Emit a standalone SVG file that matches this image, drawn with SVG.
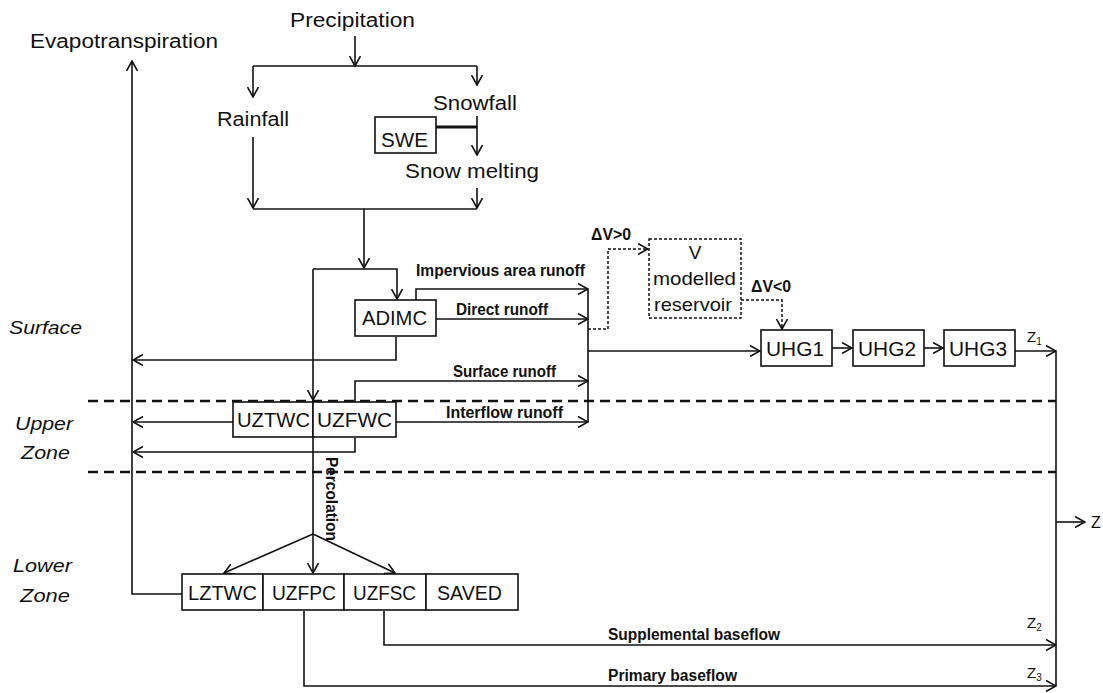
<svg xmlns="http://www.w3.org/2000/svg" width="1103" height="693" viewBox="0 0 1103 693">
<style>
.t{font-family:"Liberation Sans",Arial,sans-serif;font-size:20px;fill:#111}
.b{font-family:"Liberation Sans Narrow","Liberation Sans",Arial,sans-serif;font-size:16px;font-weight:bold;fill:#111}
.i{font-family:"Liberation Sans",Arial,sans-serif;font-size:19px;font-style:italic;fill:#111}
.m{text-anchor:middle}
.box{fill:#fff;stroke:#111;stroke-width:1.6}
.dbox{fill:#fff;stroke:#111;stroke-width:1.5;stroke-dasharray:3 2}
.ln{fill:none;stroke:#111;stroke-width:1.6}
.la{fill:none;stroke:#111;stroke-width:1.6;marker-end:url(#arr)}
.da{fill:none;stroke:#111;stroke-width:1.5;stroke-dasharray:3 2;marker-end:url(#arr)}
.zone{fill:none;stroke:#111;stroke-width:2.5;stroke-dasharray:10 6}
</style>
<defs>
<marker id="arr" viewBox="0 0 11 12" refX="10" refY="6" markerWidth="11" markerHeight="12" markerUnits="userSpaceOnUse" orient="auto">
<path d="M0,0.5 L10,6 L0,11.5" fill="none" stroke="#111" stroke-width="1.6"/>
</marker>
</defs>
<rect width="1103" height="693" fill="#fff"/>

<g id="zones">
<line class="zone" x1="88" y1="401" x2="1056" y2="401"/>
<line class="zone" x1="88" y1="472" x2="1056" y2="472"/>
<text class="i" x="9" y="334" textLength="73" lengthAdjust="spacingAndGlyphs">Surface</text>
<text class="i" x="15" y="430" textLength="58" lengthAdjust="spacingAndGlyphs">Upper</text>
<text class="i" x="21" y="459" textLength="49" lengthAdjust="spacingAndGlyphs">Zone</text>
<text class="i" x="13" y="572" textLength="59" lengthAdjust="spacingAndGlyphs">Lower</text>
<text class="i" x="20" y="602" textLength="50" lengthAdjust="spacingAndGlyphs">Zone</text>
</g>

<g id="connectors">
<path class="la" d="M355,36 V66"/>
<path class="ln" d="M253,66 H477"/>
<path class="la" d="M253,66 V97"/>
<path class="la" d="M477,66 V85"/>
<path class="la" d="M477,116 V155"/>
<path d="M436,127 H477" fill="none" stroke="#111" stroke-width="3"/>
<path class="la" d="M253,137 V208"/>
<path class="la" d="M477,188 V208"/>
<path class="ln" d="M253,209 H477"/>
<path class="la" d="M364,209 V268"/>
<path class="la" d="M313,269 H397 V299"/>
<path class="la" d="M313,269 V400"/>
<path class="la" d="M313,401 V573"/>
<path class="la" d="M313,534 L224,573"/>
<path class="la" d="M313,534 L395,573"/>
<path class="la" d="M416,300 V289 H588"/>
<path class="la" d="M436,319 H588"/>
<path class="la" d="M355,402 V381 H588"/>
<path class="la" d="M396,422 H588"/>
<path class="ln" d="M588,289 V422"/>
<path class="la" d="M588,351 H760"/>
<path class="la" d="M396,337 V360 H133"/>
<path class="la" d="M233,422 H133"/>
<path class="la" d="M355,438 V452 H133"/>
<path class="la" d="M182,594 H132 V61"/>
<path class="da" d="M588,329 H608 V249 H648"/>
<path class="da" d="M741,300 H782 V329"/>
<path class="la" d="M832,348 H852"/>
<path class="la" d="M924,348 H943"/>
<path class="la" d="M1015,351 H1056"/>
<path class="ln" d="M1056,351 V686"/>
<path class="la" d="M1056,522 H1085"/>
<path class="la" d="M384,611 V645 H1056"/>
<path class="la" d="M304,611 V686 H1056"/>
</g>

<g id="labels">
<text class="t" x="290" y="27" textLength="125" lengthAdjust="spacingAndGlyphs">Precipitation</text>
<text class="t" x="30" y="48" textLength="188" lengthAdjust="spacingAndGlyphs">Evapotranspiration</text>
<text class="t" x="217" y="126" textLength="72" lengthAdjust="spacingAndGlyphs">Rainfall</text>
<text class="t" x="433" y="110" textLength="84" lengthAdjust="spacingAndGlyphs">Snowfall</text>
<text class="t" x="405" y="178" textLength="134" lengthAdjust="spacingAndGlyphs">Snow melting</text>
<text class="b" x="416" y="276" textLength="169" lengthAdjust="spacingAndGlyphs">Impervious area runoff</text>
<text class="b" x="456" y="315" textLength="92" lengthAdjust="spacingAndGlyphs">Direct runoff</text>
<text class="b" x="453" y="377" textLength="103" lengthAdjust="spacingAndGlyphs">Surface runoff</text>
<text class="b" x="446" y="418" textLength="117" lengthAdjust="spacingAndGlyphs">Interflow runoff</text>
<text class="b" x="608" y="640" textLength="172" lengthAdjust="spacingAndGlyphs">Supplemental baseflow</text>
<text class="b" x="608" y="681" textLength="129" lengthAdjust="spacingAndGlyphs">Primary baseflow</text>
<text class="b" transform="translate(326,457) rotate(90)" textLength="84" lengthAdjust="spacingAndGlyphs">Percolation</text>
<text class="b" x="591" y="240" textLength="40" lengthAdjust="spacingAndGlyphs">ΔV&gt;0</text>
<text class="b" x="751" y="292" textLength="40" lengthAdjust="spacingAndGlyphs">ΔV&lt;0</text>
<text class="t" x="1027" y="342" style="font-size:15px">Z<tspan dy="3" style="font-size:10px">1</tspan></text>
<text class="t" x="1027" y="628" style="font-size:15px">Z<tspan dy="3" style="font-size:10px">2</tspan></text>
<text class="t" x="1027" y="678" style="font-size:15px">Z<tspan dy="3" style="font-size:10px">3</tspan></text>
<text class="t" x="1091" y="528" style="font-size:16px">Z</text>
</g>

<g id="SWE">
<rect class="box" x="375" y="117" width="61" height="36"/>
<text class="t" x="381" y="147" textLength="47" lengthAdjust="spacingAndGlyphs">SWE</text>
</g>
<g id="ADIMC">
<rect class="box" x="355" y="300" width="81" height="36"/>
<text class="t" x="362" y="325" textLength="65" lengthAdjust="spacingAndGlyphs">ADIMC</text>
</g>
<g id="UZTWC">
<rect class="box" x="233" y="402" width="80" height="35"/>
<text class="t" x="237" y="427" textLength="73" lengthAdjust="spacingAndGlyphs">UZTWC</text>
</g>
<g id="UZFWC">
<rect class="box" x="313" y="402" width="83" height="35"/>
<text class="t" x="317" y="427" textLength="75" lengthAdjust="spacingAndGlyphs">UZFWC</text>
</g>
<g id="reservoir">
<rect class="dbox" x="649" y="239" width="92" height="79"/>
<text class="t m" x="695" y="259" style="font-size:19px">V</text>
<text class="t" x="653" y="285" textLength="83" lengthAdjust="spacingAndGlyphs" style="font-size:19px">modelled</text>
<text class="t" x="654" y="311" textLength="78" lengthAdjust="spacingAndGlyphs" style="font-size:19px">reservoir</text>
</g>
<g id="UHG1">
<rect class="box" x="761" y="330" width="71" height="36"/>
<text class="t" x="766" y="356" textLength="58" lengthAdjust="spacingAndGlyphs">UHG1</text>
</g>
<g id="UHG2">
<rect class="box" x="853" y="330" width="71" height="36"/>
<text class="t" x="858" y="356" textLength="58" lengthAdjust="spacingAndGlyphs">UHG2</text>
</g>
<g id="UHG3">
<rect class="box" x="944" y="330" width="71" height="36"/>
<text class="t" x="949" y="356" textLength="58" lengthAdjust="spacingAndGlyphs">UHG3</text>
</g>
<g id="LZTWC">
<rect class="box" x="182" y="574" width="81" height="36"/>
<text class="t" x="188" y="600" textLength="69" lengthAdjust="spacingAndGlyphs">LZTWC</text>
</g>
<g id="UZFPC">
<rect class="box" x="263" y="574" width="81" height="36"/>
<text class="t" x="272" y="600" textLength="64" lengthAdjust="spacingAndGlyphs">UZFPC</text>
</g>
<g id="UZFSC">
<rect class="box" x="344" y="574" width="82" height="36"/>
<text class="t" x="353" y="600" textLength="63" lengthAdjust="spacingAndGlyphs">UZFSC</text>
</g>
<g id="SAVED">
<rect class="box" x="426" y="574" width="92" height="36"/>
<text class="t" x="437" y="600" textLength="65" lengthAdjust="spacingAndGlyphs">SAVED</text>
</g>
</svg>
